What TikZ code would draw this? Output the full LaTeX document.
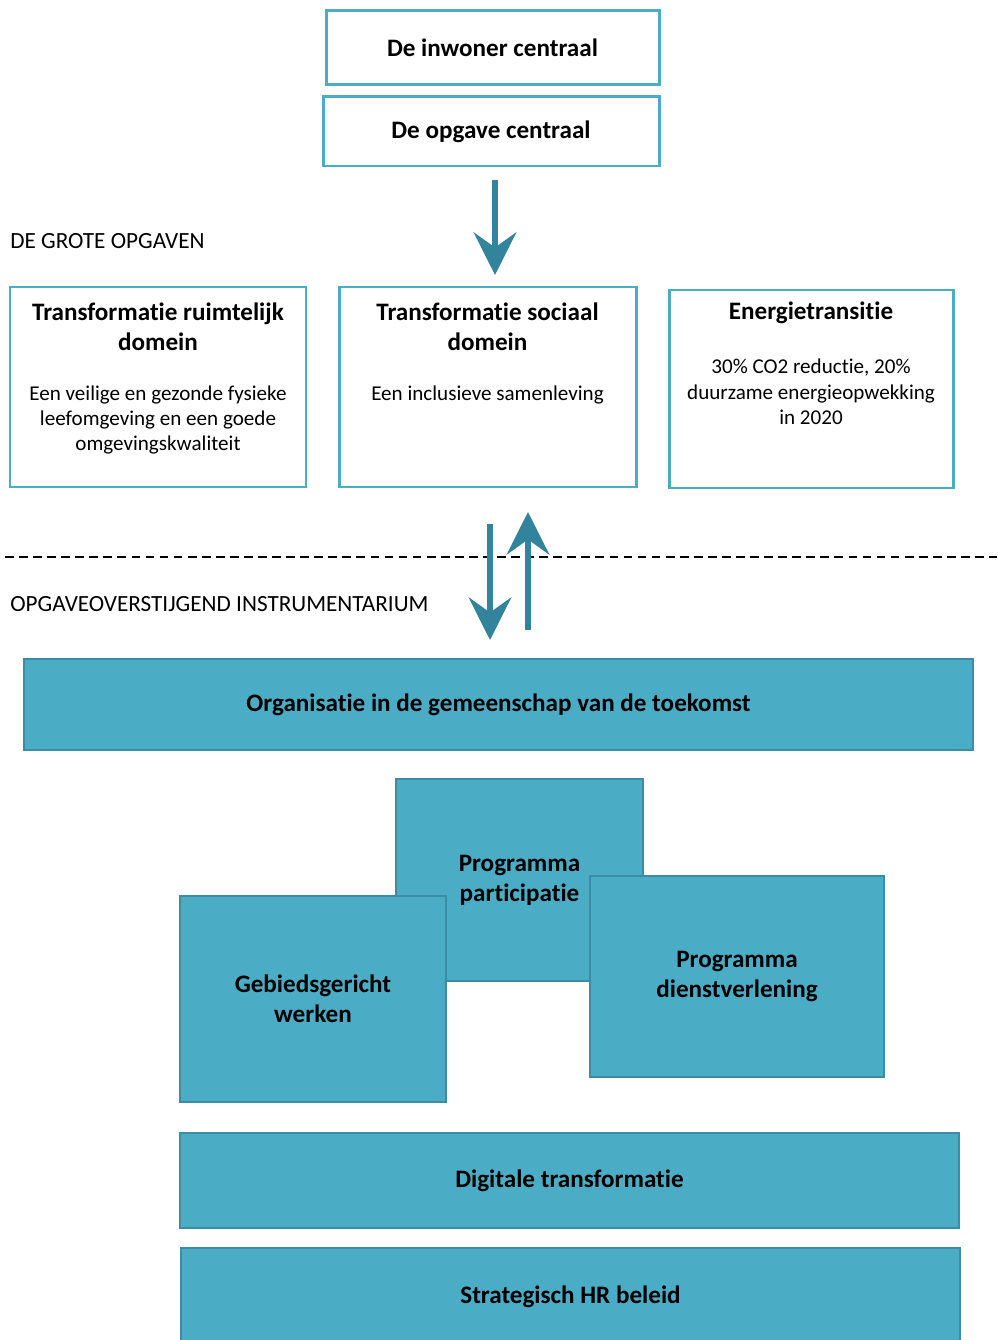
\documentclass[tikz,border=0pt]{standalone}
\usepackage{fontspec}
\setmainfont{Carlito}[Ligatures=NoCommon]
\usetikzlibrary{arrows.meta}
\definecolor{tealline}{HTML}{4BACC6}
\definecolor{tealfill}{HTML}{4BACC6}
\definecolor{tealedge}{HTML}{3C8DA3}
\definecolor{tealarrow}{HTML}{31849B}
\tikzset{
	openbox/.style={draw=tealline, line width=1.7pt, fill=white, inner sep=0pt},
	tealbox/.style={draw=tealedge, line width=1.2pt, fill=tealfill, inner sep=0pt, align=center, font=\fontsize{14.3}{17}\selectfont\bfseries},
	titletxt/.style={align=center, font=\fontsize{14.3}{17}\selectfont\bfseries},
	bodytxt/.style={align=center, font=\fontsize{12}{14.5}\selectfont},
	bigarrow/.style={draw=tealarrow, line width=3.4pt, -{Stealth[length=0.85cm, width=0.85cm, inset=0.3cm]}},
	headtxt/.style={anchor=west, inner sep=0pt, font=\fontsize{13.2}{15}\selectfont}
}
\begin{document}
\begin{tikzpicture}
			%%%%% START %%%%%
			\useasboundingbox (0, 0) rectangle (19.94, -26.8);
			
			\node[openbox, minimum width=6.66cm, minimum height=1.48cm, titletxt] (inwoner) at (9.85, -0.96) {De inwoner centraal};
			\node[openbox, minimum width=6.72cm, minimum height=1.38cm, titletxt] (opgave) at (9.82, -2.63) {De opgave centraal};
			
			\coordinate (a1from) at (9.9, -3.6);
			\coordinate (a1to) at (9.9, -5.5);
			\draw[bigarrow] (a1from) -- (a1to);
			
			\node[headtxt] (grote) at (0.2, -4.82) {DE GROTE OPGAVEN};
			
			\node[openbox, minimum width=5.92cm, minimum height=4cm] (ruimtelijk) at (3.16, -7.74) {};
			\node[openbox, minimum width=5.94cm, minimum height=4cm] (sociaal) at (9.75, -7.74) {};
			\node[openbox, minimum width=5.68cm, minimum height=3.96cm] (energie) at (16.22, -7.78) {};
			
			\node[titletxt] (ruimtelijktitle) at (3.16, -6.54) {Transformatie ruimtelijk\\ domein};
			\node[bodytxt] (ruimtelijkbody) at (3.16, -8.4) {Een veilige en gezonde fysieke\\ leefomgeving en een goede\\ omgevingskwaliteit};
			\node[titletxt] (sociaaltitle) at (9.75, -6.54) {Transformatie sociaal\\ domein};
			\node[bodytxt] (sociaalbody) at (9.75, -7.9) {Een inclusieve samenleving};
			\node[titletxt] (energietitle) at (16.22, -6.26) {Energietransitie};
			\node[bodytxt] (energiebody) at (16.22, -7.84) {30\% CO2 reductie, 20\%\\ duurzame energieopwekking\\ in 2020};
			
			\coordinate (dashl) at (0.1, -11.14);
			\coordinate (dashr) at (19.94, -11.14);
			\draw[line width=0.9pt, dash pattern=on 5pt off 3pt] (dashl) -- (dashr);
			
			\node[headtxt] (instrument) at (0.2, -12.08) {OPGAVEOVERSTIJGEND INSTRUMENTARIUM};
			
			\coordinate (a2from) at (9.8, -10.48);
			\coordinate (a2to) at (9.8, -12.8);
			\coordinate (a3from) at (10.56, -12.6);
			\coordinate (a3to) at (10.56, -10.24);
			\draw[bigarrow] (a2from) -- (a2to);
			\draw[bigarrow] (a3from) -- (a3to);
			
			\node[tealbox, minimum width=18.98cm, minimum height=1.82cm] (gemeenschap) at (9.97, -14.09) {Organisatie in de gemeenschap van de toekomst};
			
			\node[tealbox, minimum width=4.94cm, minimum height=4.04cm] (participatie) at (10.39, -17.6) {Programma\\ participatie};
			\node[tealbox, minimum width=5.32cm, minimum height=4.12cm] (gebied) at (6.26, -19.98) {Gebiedsgericht\\ werken};
			\node[tealbox, minimum width=5.88cm, minimum height=4.02cm] (dienst) at (14.74, -19.53) {Programma\\ dienstverlening};
			
			\node[tealbox, minimum width=15.58cm, minimum height=1.9cm] (digitaal) at (11.39, -23.61) {Digitale transformatie};
			\node[tealbox, minimum width=15.58cm, minimum height=1.96cm] (hrbeleid) at (11.41, -25.94) {Strategisch HR beleid};
			
			%%%%% END %%%%%
\end{tikzpicture}
\end{document}
